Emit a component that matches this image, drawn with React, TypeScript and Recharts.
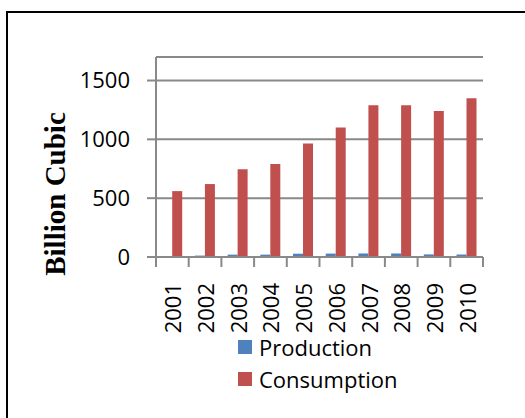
import { BarChart, Bar, XAxis, YAxis, CartesianGrid, Legend } from 'recharts';

const years = ['2001', '2002', '2003', '2004', '2005', '2006', '2007', '2008', '2009', '2010'];
const production = [3, 12, 20, 20, 28, 29, 30, 30, 22, 21];
const consumption = [560, 620, 745, 790, 965, 1100, 1290, 1290, 1240, 1350];
const seriesNames = ['Production', 'Consumption'];
const yTicks = [0, 500, 1000, 1500];

const data = years.map((year, i) => ({
  year,
  production: production[i],
  consumption: consumption[i],
}));

const BLUE = '#4F81BD';
const RED = '#C0504D';
const GRAY = '#898989';
const SANS = '"Open Sans", Calibri, sans-serif';

function YearTick(props: any) {
  const { x, y, payload, index, visibleTicksCount, width } = props;
  const half = payload?.offset || width / visibleTicksCount / 2;
  return (
    <g>
      <line x1={x - half} x2={x - half} y1={y} y2={y + 10} stroke={GRAY} strokeWidth={2} />
      {index === visibleTicksCount - 1 && (
        <line x1={x + half} x2={x + half} y1={y} y2={y + 10} stroke={GRAY} strokeWidth={2} />
      )}
      <text
        x={x}
        y={y + 26}
        transform={`rotate(-90, ${x}, ${y + 26})`}
        textAnchor="end"
        dominantBaseline="central"
        fontFamily={SANS}
        fontSize={22}
        fill="#000"
      >
        {payload.value}
      </text>
    </g>
  );
}

function AxisTitle() {
  return (
    <text
      x={55}
      y={194}
      transform="rotate(-90, 55, 194)"
      textAnchor="middle"
      dominantBaseline="central"
      fontFamily='"Liberation Serif", "Times New Roman", serif'
      fontWeight="bold"
      fontSize={29}
      fill="#000"
    >
      Billion Cubic
    </text>
  );
}

function LegendBox(props: any) {
  const items = [...(props.payload || [])].sort(
    (a: any, b: any) => seriesNames.indexOf(a.value) - seriesNames.indexOf(b.value)
  );
  return (
    <div style={{ fontFamily: SANS, fontSize: 22, color: '#000' }}>
      {items.map((entry: any) => (
        <div key={entry.value} style={{ display: 'flex', alignItems: 'center', height: 32 }}>
          <span style={{ width: 14, height: 14, background: entry.color, marginRight: 7, display: 'inline-block' }} />
          <span style={{ lineHeight: '32px' }}>{entry.value}</span>
        </div>
      ))}
    </div>
  );
}

export default function App() {
  return (
    <div style={{ position: 'absolute', left: 0, top: 0, width: 525, height: 418, overflow: 'hidden', background: '#fff' }}>
      <div
        style={{
          position: 'absolute',
          left: 6,
          top: 11,
          width: 600,
          height: 500,
          border: '2px solid #000',
        }}
      />
      <div style={{ position: 'absolute', left: 0, top: 0 }}>
        <BarChart
          width={525}
          height={418}
          data={data}
          margin={{ top: 57, right: 42, left: 0, bottom: 101 }}
          barCategoryGap="19%"
          barGap={0}
        >
          <CartesianGrid vertical={false} stroke={GRAY} strokeWidth={2} />
          <XAxis
            dataKey="year"
            height={60}
            axisLine={{ stroke: GRAY, strokeWidth: 2 }}
            tickLine={false}
            tickSize={0}
            tickMargin={0}
            interval={0}
            tick={<YearTick />}
          />
          <YAxis
            width={156}
            domain={[0, 1700]}
            ticks={yTicks}
            axisLine={{ stroke: GRAY, strokeWidth: 2 }}
            tickLine={{ stroke: GRAY, strokeWidth: 2 }}
            tickSize={9}
            tickMargin={17}
            tick={{ fontFamily: SANS, fontSize: 22, fill: '#000' }}
            label={<AxisTitle />}
          />
          <Legend
            layout="horizontal"
            verticalAlign="middle"
            align="center"
            content={<LegendBox />}
            wrapperStyle={{ top: 331, left: 238, width: 200, height: 64 }}
          />
          <Bar dataKey="production" name="Production" fill={BLUE} isAnimationActive={false} />
          <Bar dataKey="consumption" name="Consumption" fill={RED} isAnimationActive={false} />
        </BarChart>
      </div>
    </div>
  );
}
